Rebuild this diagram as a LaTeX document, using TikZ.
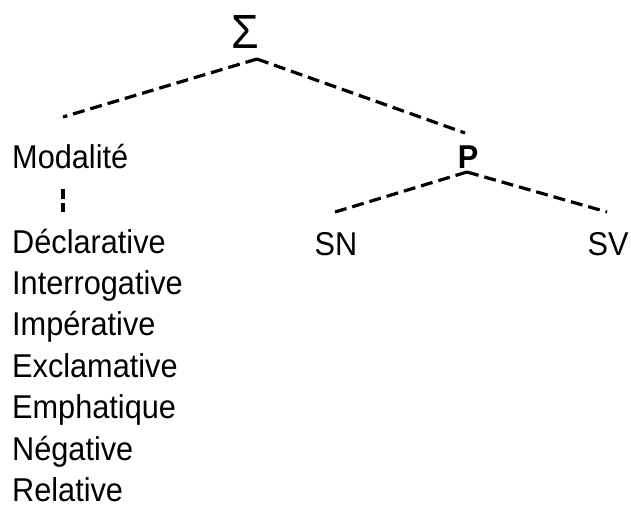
\documentclass[tikz,border=0pt]{standalone}
\usepackage{fontspec}
\setmainfont{Liberation Sans}[FakeStretch=0.93]
\usetikzlibrary{positioning}

\begin{document}
\begin{tikzpicture}[
    x=1pt, y=-1pt,
    word/.style={inner sep=0pt, font=\fontsize{33}{40}\selectfont},
    item/.style={word, text height=24pt, text depth=5pt},
    branch/.style={dash pattern=on 12pt off 6pt, line width=3.2pt}
]
\useasboundingbox (0,0) rectangle (631,512);

% tree labels
\node[word, font=\fontsize{48}{52}\selectfont] (sigma) at (245,32) {Σ};
\node[word, anchor=base west] (modal) at (12,168) {Modalité};
\node[word, anchor=base, font=\fontsize{33}{40}\selectfont\bfseries] (p) at (468,168) {P};
\node[word, anchor=base] (sn) at (336,255) {SN};
\node[word, anchor=base] (sv) at (608,255) {SV};

% list of modalities
\node[item, anchor=base west] (decl) at (12,253) {Déclarative};
\node[item, below=12pt of decl.south west, anchor=north west] (inter) {Interrogative};
\node[item, below=12pt of inter.south west, anchor=north west] (imper) {Impérative};
\node[item, below=12pt of imper.south west, anchor=north west] (excl) {Exclamative};
\node[item, below=12pt of excl.south west, anchor=north west] (emph) {Emphatique};
\node[item, below=12pt of emph.south west, anchor=north west] (neg) {Négative};
\node[item, below=12pt of neg.south west, anchor=north west] (rel) {Relative};

% branch ends
\coordinate (sigma-foot) at (257,59);
\coordinate (modal-top) at (63,117);
\coordinate (p-top) at (465,133);
\coordinate (modal-foot) at (63,189);
\coordinate (decl-top) at (63,212);
\coordinate (p-foot) at (467,172);
\coordinate (sn-top) at (335,212);
\coordinate (sv-top) at (607,212);

\draw[branch] (sigma-foot) -- (modal-top);
\draw[branch] (sigma-foot) -- (p-top);
\draw[branch, dash pattern=on 10pt off 4pt] (modal-foot) -- (decl-top);
\draw[branch] (p-foot) -- (sn-top);
\draw[branch] (p-foot) -- (sv-top);
\end{tikzpicture}
\end{document}
